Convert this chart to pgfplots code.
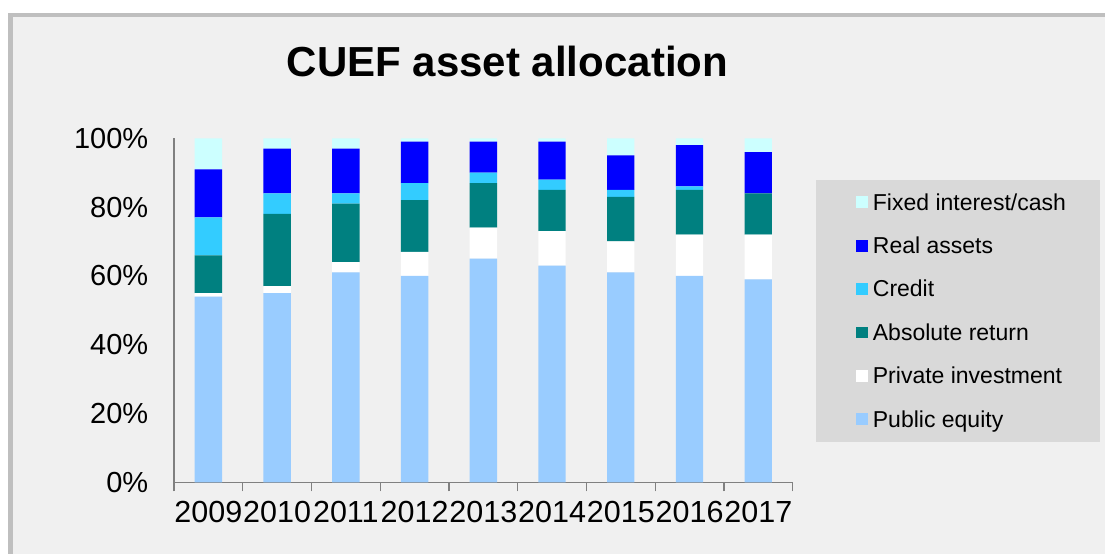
\documentclass[border=0pt]{standalone}
\usepackage{pgfplots}
\pgfplotsset{compat=1.18}
\usepackage{fontspec}
\setmainfont{Liberation Sans}
\definecolor{bgc}{HTML}{F0F0F0}
\definecolor{brd}{HTML}{BFBFBF}
\definecolor{legbg}{HTML}{D9D9D9}
\definecolor{pubc}{HTML}{99CCFF}
\definecolor{absc}{HTML}{008080}
\definecolor{credc}{HTML}{33CCFF}
\definecolor{realc}{HTML}{0000FF}
\definecolor{fixc}{HTML}{CCFFFF}
\definecolor{axc}{HTML}{808080}
\begin{document}
\begin{tikzpicture}[x=1pt,y=1pt]
\useasboundingbox (0,0) rectangle (1105,554);
\fill[white] (0,0) rectangle (1105,554);
\fill[brd] (8,0) rectangle (1105,541);
\fill[bgc] (13,0) rectangle (1105,537);
\fill[legbg] (816,112) rectangle (1100,374);
\node[anchor=base,font=\fontsize{42}{50}\selectfont\bfseries] at (507.5,477.3) {CUEF asset allocation};
\begin{axis}[
  at={(174pt,71.7pt)}, anchor=south west,
  scale only axis, width=618.7pt, height=344pt,
  ybar stacked, bar width=27.3pt,
  xmin=-0.5, xmax=8.5, ymin=0, ymax=100,
  axis x line*=bottom, axis y line*=left,
  axis line style={axc, line width=1.2pt, -},
  xtick={0,...,8},
  xticklabels={2009,2010,2011,2012,2013,2014,2015,2016,2017},
  major x tick style={draw=none},
  minor xtick={-0.5,0.5,...,8.5},
  minor x tick style={axc, line width=1.2pt},
  minor tick length=9pt,
  tick align=outside,
  ytick={0,20,...,100},
  yticklabels={0\%,20\%,40\%,60\%,80\%,100\%},
  major y tick style={draw=none},
  yticklabel style={anchor=east, xshift=-18pt, font=\fontsize{29}{34}\selectfont},
  xticklabel style={anchor=base, yshift=-36pt, font=\fontsize{30.5}{36}\selectfont},
  reverse legend,
  legend style={at={(1.1023,0.841)}, anchor=north west, fill=none, draw=none,
    inner sep=0pt, font=\fontsize{23}{27}\selectfont,
    nodes={inner sep=0pt, anchor=base west, text height=17pt, text depth=5pt},
    row sep=21.4pt, /tikz/column 1/.style={column sep=5pt}},
  legend cell align=left,
  legend image code/.code={\fill[#1] (0pt,2pt) rectangle (11.7pt,13.7pt);},
]
\addplot[fill=pubc, draw=none] coordinates {(0,54) (1,55) (2,61) (3,60) (4,65) (5,63) (6,61) (7,60) (8,59)};
\addplot[fill=white, draw=none] coordinates {(0,1) (1,2) (2,3) (3,7) (4,9) (5,10) (6,9) (7,12) (8,13)};
\addplot[fill=absc, draw=none] coordinates {(0,11) (1,21) (2,17) (3,15) (4,13) (5,12) (6,13) (7,13) (8,12)};
\addplot[fill=credc, draw=none] coordinates {(0,11) (1,6) (2,3) (3,5) (4,3) (5,3) (6,2) (7,1) (8,0)};
\addplot[fill=realc, draw=none] coordinates {(0,14) (1,13) (2,13) (3,12) (4,9) (5,11) (6,10) (7,12) (8,12)};
\addplot[fill=fixc, draw=none] coordinates {(0,9) (1,3) (2,3) (3,1) (4,1) (5,1) (6,5) (7,2) (8,4)};
\legend{Public equity,Private investment,Absolute return,Credit,Real assets,Fixed interest/cash}
\end{axis}
\end{tikzpicture}
\end{document}
